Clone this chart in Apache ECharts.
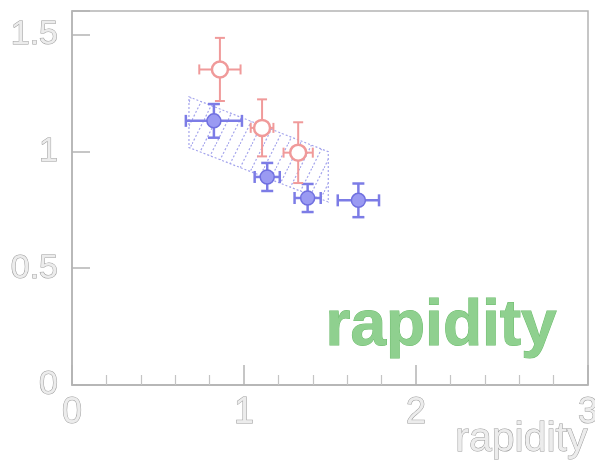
<!DOCTYPE html>
<html>
<head>
<meta charset="utf-8">
<script src="https://cdn.jsdelivr.net/npm/echarts@6/dist/echarts.min.js"></script>
<style>
  html, body { margin: 0; padding: 0; background: #fff; }
  #chart { width: 595px; height: 461px; }
</style>
</head>
<body>
<div id="chart"></div>
<script>
// tick labels
const xTicks = [0, 1, 2, 3];
const yTicks = [0, 0.5, 1, 1.5];

// red points (open circles)
const redX = [0.86, 1.105, 1.315];
const redY = [1.35, 1.10, 0.994];
const redErrX = [0.12, 0.066, 0.085];
const redErrY = [0.135, 0.122, 0.13];

// blue points (filled)
const blueX = [0.825, 1.135, 1.37, 1.665];
const blueY = [1.13, 0.89, 0.80, 0.79];
const blueErrX = [0.163, 0.073, 0.076, 0.12];
const blueErrY = [0.072, 0.06, 0.06, 0.072];

// hatched band
const bandX = [0.68, 1.49];
const bandUpper = [1.233, 0.998];
const bandLower = [1.016, 0.783];

const labelFont = 'Liberation Sans';

function rows(xs, ys, exs, eys) {
  return xs.map((x, i) => [x, ys[i], exs[i], eys[i]]);
}

// diagonal hatch tile for the band
const hatch = document.createElement('canvas');
hatch.width = 12;
hatch.height = 24;
const hctx = hatch.getContext('2d');
hctx.strokeStyle = '#a4a4ec';
hctx.lineWidth = 1.2;
hctx.setLineDash([2, 2]);
hctx.beginPath();
hctx.moveTo(0, 24);
hctx.lineTo(12, 0);
hctx.stroke();

function errorBars(color, width, cap) {
  return function (params, api) {
    const x = api.value(0), y = api.value(1);
    const ex = api.value(2), ey = api.value(3);
    const l = api.coord([x - ex, y]);
    const r = api.coord([x + ex, y]);
    const t = api.coord([x, y + ey]);
    const b = api.coord([x, y - ey]);
    const st = { stroke: color, lineWidth: width };
    const line = (x1, y1, x2, y2) => ({
      type: 'line', shape: { x1, y1, x2, y2 }, style: st,
    });
    return {
      type: 'group',
      children: [
        line(l[0], l[1], r[0], r[1]),
        line(t[0], t[1], b[0], b[1]),
        line(l[0], l[1] - cap, l[0], l[1] + cap),
        line(r[0], r[1] - cap, r[0], r[1] + cap),
        line(t[0] - cap, t[1], t[0] + cap, t[1]),
        line(b[0] - cap, b[1], b[0] + cap, b[1]),
      ],
    };
  };
}

const chart = echarts.init(document.getElementById('chart'));
chart.setOption({
  animation: false,
  grid: {
    left: 72,
    top: 11,
    width: 516,
    height: 374,
    containLabel: false,
    outerBoundsMode: 'none',
    show: true,
    borderColor: '#b4b4b4',
    borderWidth: 1.5,
  },
  xAxis: {
    type: 'value',
    min: 0,
    max: 3,
    interval: 1,
    axisLine: { lineStyle: { color: '#b4b4b4', width: 1.5 } },
    axisTick: { inside: true, length: 20, lineStyle: { color: '#b4b4b4', width: 1.5 } },
    minorTick: { show: true, splitNumber: 5, length: 10, lineStyle: { color: '#c4c4c4', width: 1.2 } },
    splitLine: { show: false },
    axisLabel: {
      margin: 10,
      fontFamily: labelFont,
      fontSize: 36,
      color: '#ececec',
      textBorderColor: '#9a9a9a',
      textBorderWidth: 1,
      formatter: (v) => (xTicks.includes(v) ? String(v) : ''),
    },
  },
  yAxis: {
    type: 'value',
    min: 0,
    max: 1.6,
    interval: 0.5,
    axisLine: { lineStyle: { color: '#b4b4b4', width: 1.5 } },
    axisTick: { inside: true, length: 18, lineStyle: { color: '#b4b4b4', width: 1.5 } },
    splitLine: { show: false },
    axisLabel: {
      margin: 14,
      fontFamily: labelFont,
      fontSize: 34,
      color: '#ececec',
      textBorderColor: '#9a9a9a',
      textBorderWidth: 1,
      formatter: (v) => (yTicks.includes(v) ? String(v) : ''),
    },
  },
  graphic: [
    {
      // x axis title
      type: 'text',
      right: 7,
      top: 419,
      style: {
        text: 'rapidity',
        font: '41px "Liberation Sans"',
        fill: '#ececec',
        stroke: '#9a9a9a',
        lineWidth: 1,
      },
    },
    {
      type: 'text',
      left: 325,
      top: 295,
      style: {
        text: 'rapidity',
        font: 'bold 64px "Liberation Sans"',
        fill: '#8fd08f',
        stroke: '#6cbc6c',
        lineWidth: 1,
      },
    },
  ],
  series: [
    {
      type: 'custom',
      data: [[bandX[0], bandUpper[0], bandX[1], bandUpper[1], bandLower[1], bandLower[0]]],
      encode: { x: [0, 2], y: [1, 3, 4, 5] },
      renderItem(params, api) {
        const p1 = api.coord([api.value(0), api.value(1)]);
        const p2 = api.coord([api.value(2), api.value(3)]);
        const p3 = api.coord([api.value(2), api.value(4)]);
        const p4 = api.coord([api.value(0), api.value(5)]);
        return {
          type: 'polygon',
          shape: { points: [p1, p2, p3, p4] },
          style: {
            fill: { image: hatch, repeat: 'repeat' },
            stroke: '#a4a4ec',
            lineWidth: 1.2,
            lineDash: [2, 2],
          },
        };
      },
      z: 1,
    },
    {
      type: 'custom',
      data: rows(blueX, blueY, blueErrX, blueErrY),
      encode: { x: 0, y: 1 },
      renderItem: errorBars('#7c7ce6', 2.5, 6),
      z: 2,
    },
    {
      type: 'custom',
      data: rows(redX, redY, redErrX, redErrY),
      encode: { x: 0, y: 1 },
      renderItem: errorBars('#f09a9a', 2, 5),
      z: 3,
    },
    {
      type: 'scatter',
      data: blueX.map((x, i) => [x, blueY[i]]),
      symbol: 'circle',
      symbolSize: 14,
      itemStyle: { color: '#9a9af2', borderColor: '#7070e0', borderWidth: 1.5, opacity: 1 },
      z: 4,
    },
    {
      type: 'scatter',
      data: redX.map((x, i) => [x, redY[i]]),
      symbol: 'circle',
      symbolSize: 16,
      itemStyle: { color: '#fff', borderColor: '#f09a9a', borderWidth: 2.5, opacity: 1 },
      z: 5,
    },
  ],
});
</script>
</body>
</html>
